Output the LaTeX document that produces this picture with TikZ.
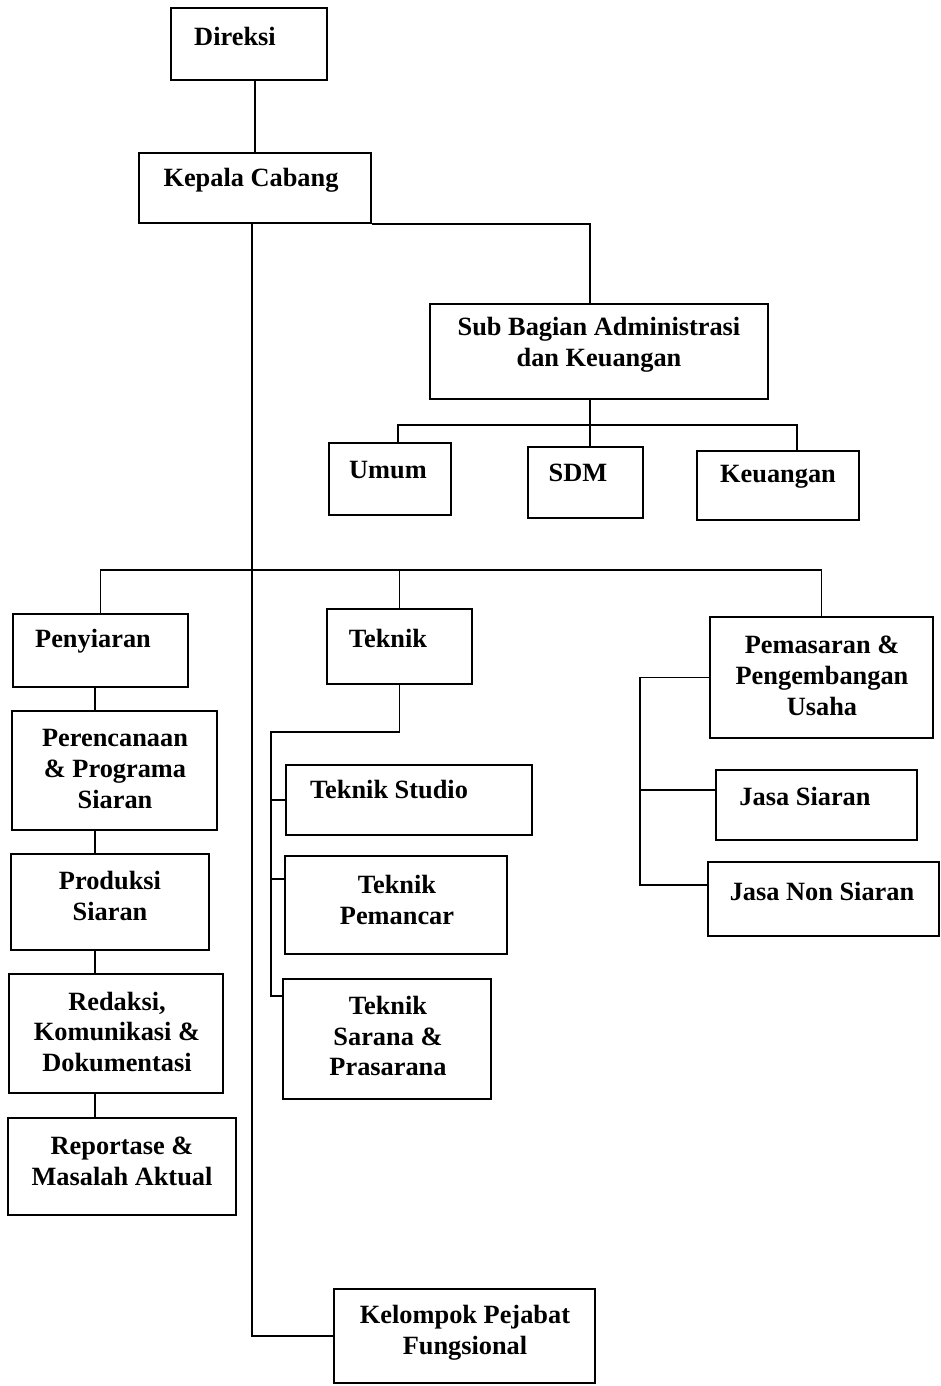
\documentclass[tikz,border=0pt]{standalone}
\usepackage{fontspec}
\setmainfont{Liberation Serif}
\usetikzlibrary{fit}

\begin{document}
\begin{tikzpicture}[x=0.02cm,y=-0.02cm,line width=0.9pt,
  box/.style={draw, inner sep=0pt},
  txt/.style={align=center, inner sep=0pt, font=\fontsize{15}{17.6}\selectfont\bfseries}]
 \useasboundingbox (0,0) rectangle (940,1386);
          \begin{scope}[every node/.style={box}]
          \node[fit={(171,8) (327,80)}] (direksi) {};
          \node[fit={(139,153) (371,223)}] (kepala) {};
          \node[fit={(430,304) (768,399)}] (sub) {};
          \node[fit={(329,443) (451,515)}] (umum) {};
          \node[fit={(528,447) (643,518)}] (sdm) {};
          \node[fit={(697,451) (859,520)}] (keu) {};
          \node[fit={(13,614) (188,687)}] (peny) {};
          \node[fit={(327,609) (472,684)}] (tek) {};
          \node[fit={(710,617) (933,738)}] (pemas) {};
          \node[fit={(12,711) (217,830)}] (pren) {};
          \node[fit={(11,854) (209,950)}] (prod) {};
          \node[fit={(9,974) (223,1093)}] (red) {};
          \node[fit={(8,1118) (236,1215)}] (rep) {};
          \node[fit={(286,765) (532,835)}] (studio) {};
          \node[fit={(285,856) (507,954)}] (pemancar) {};
          \node[fit={(283,979) (491,1099)}] (sarana) {};
          \node[fit={(716,770) (917,840)}] (jasa) {};
          \node[fit={(708,862) (939,936)}] (nonsiaran) {};
          \node[fit={(334,1289) (595,1383)}] (kelompok) {};
          \end{scope}

          \begin{scope}[every node/.style={txt}]
          \node (direksi-t) at (235,36) {Direksi};
          \node (kepala-t) at (251,180) {Kepala Cabang};
          \node (sub-t) at (599,345) {Sub Bagian Administrasi\\dan Keuangan};
          \node (umum-t) at (388,470) {Umum};
          \node (sdm-t) at (578,473) {SDM};
          \node (keu-t) at (778,477) {Keuangan};
          \node (peny-t) at (93,641) {Penyiaran};
          \node (tek-t) at (388,638) {Teknik};
          \node (pemas-t) at (822,676) {Pemasaran \&\\Pengembangan\\Usaha};
          \node (pren-t) at (115,769) {Perencanaan\\\& Programa\\Siaran};
          \node (prod-t) at (110,896) {Produksi\\Siaran};
          \node (red-t) at (117,1032) {Redaksi,\\Komunikasi \&\\Dokumentasi};
          \node (rep-t) at (122,1161) {Reportase \&\\Masalah Aktual};
          \node (studio-t) at (389,790) {Teknik Studio};
          \node (pemancar-t) at (397,900) {Teknik\\Pemancar};
          \node (sarana-t) at (388,1036) {Teknik\\Sarana \&\\Prasarana};
          \node (jasa-t) at (805,796) {Jasa Siaran};
          \node (nonsiaran-t) at (822,891) {Jasa Non Siaran};
          \node (kelompok-t) at (465,1333) {Kelompok Pejabat\\Fungsional};
          \end{scope}

          \coordinate (spine) at (252,0);
          \coordinate (bbus) at (0,570);
          \coordinate (pline) at (95,0);
          \coordinate (tline) at (271,0);
          \coordinate (mline) at (640,0);
          \coordinate (sline) at (590,0);
          \coordinate (tk2) at ([yshift=-0.48cm]pemancar.north west);
          \coordinate (tk3) at ([yshift=-0.36cm]sarana.north west);
          \coordinate (jk) at ([yshift=0.3cm]jasa.west);
          \coordinate (nk) at ([yshift=0.28cm]nonsiaran.west);

          \draw (kepala.north) -- (kepala.north |- direksi.south);
          \draw (kepala.south -| spine) |- (kelompok.west);
          \draw (kepala.south east) -| (sline |- sub.north);
          \draw (sline |- sub.south) -- (sline |- sdm.north);
          \draw ([xshift=0.16cm]umum.north) |- ([yshift=-0.5cm]sline |- sub.south) -| ([xshift=0.38cm]keu.north);
          \draw (peny.north) |- (bbus -| pemas.north) -- (pemas.north);
          \draw (tek.north) -- (tek.north |- bbus);
          \foreach \a/\b in {peny/pren, pren/prod, prod/red, red/rep}
            \draw (\a.south -| pline) -- (\b.north -| pline);
          \draw (tek.south) -- ++(0,47) -| (tk3 -| tline) -- (tk3);
          \draw (studio.west -| tline) -- (studio.west);
          \draw (tk2 -| tline) -- (tk2);
          \draw (pemas.west) -| (nk -| mline) -- (nk);
          \draw (jk -| mline) -- (jk);
          \end{tikzpicture}
\end{document}
